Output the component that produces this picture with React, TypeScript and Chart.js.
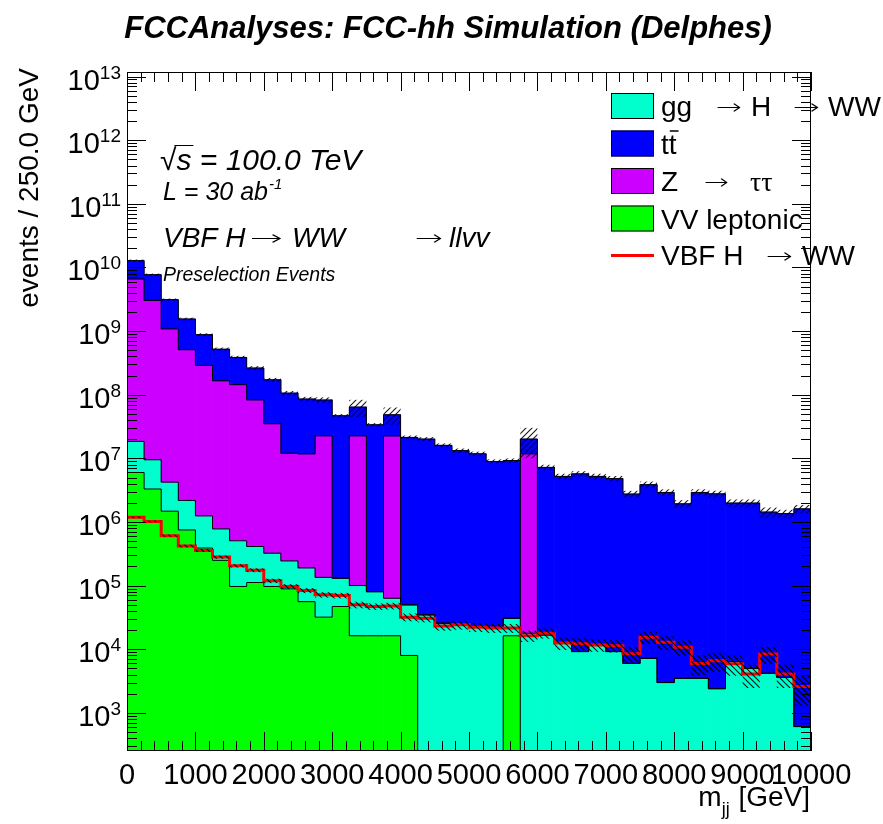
import React, { useEffect, useRef } from 'react';
import { Chart, registerables } from 'chart.js';

Chart.register(...registerables);

// ---------------- data ----------------
// lower bin edges of m_jj [GeV], 250 GeV bins
const binLow = [0, 250, 500, 750, 1000, 1250, 1500, 1750, 2000, 2250, 2500, 2750, 3000, 3250, 3500, 3750, 4000, 4250, 4500, 4750,
  5000, 5250, 5500, 5750, 6000, 6250, 6500, 6750, 7000, 7250, 7500, 7750, 8000, 8250, 8500, 8750, 9000, 9250, 9500, 9750];
const binWidth = 250;
const xMin = 0;
const xMax = 10000;
const yMin = 252;
const yMax = 1.18e13;

// stacked backgrounds, events per bin (bottom -> top)
const vvLeptonic = [6.0e6, 3.3e6, 1.48e6, 7.5e5, 3.9e5, 2.5e5, 9.7e4, 1.12e5, 9.7e4, 8.9e4, 5.6e4, 3.2e4, 4.7e4, 1.63e4, 1.63e4, 1.63e4, 8.0e3,
  0, 0, 0, 0, 0, 1.63e4, 0, 0, 0, 0, 0, 0, 0, 0, 0, 0, 0, 0, 0, 0, 0, 0, 0];
const ggHWW = [1.25e7, 6.2e6, 2.76e6, 1.43e6, 8.6e5, 5.3e5, 4.1e5, 3.0e5, 2.27e5, 1.56e5, 1.34e5, 1.03e5, 8.4e4, 8.4e4, 6.4e4, 4.7e4, 4.2e4,
  3.48e4, 2.57e4, 2.42e4, 2.28e4, 2.15e4, 1.45e4, 1.79e4, 1.68e4, 1.25e4, 9.2e3, 1.17e4, 9.2e3, 6.0e3, 7.2e3, 3.0e3, 3.5e3, 3.5e3, 2.4e3,
  6.4e3, 5.0e3, 4.2e3, 3.6e3, 610];
const zTauTau = [6.58e9, 3.03e9, 1.08e9, 5.08e8, 2.88e8, 1.65e8, 1.435e8, 8.26e7, 3.47e7, 1.18e7, 1.16e7, 2.25e7, 0, 2.25e7, 0, 2.25e7,
  0, 0, 0, 0, 0, 0, 0, 1.18e7, 0, 0, 0, 0, 0, 0, 0, 0, 0, 0, 0, 0, 0, 0, 0, 0];
const ttbar = [6.2e9, 4.66e9, 2.04e9, 1.04e9, 5.9e8, 3.54e8, 2.42e8, 1.8e8, 1.37e8, 9.4e7, 7.4e7, 6.0e7, 4.67e7, 4.14e7, 3.37e7, 2.59e7,
  2.13e7, 2.01e7, 1.6e7, 1.32e7, 1.18e7, 8.9e6, 9.2e6, 8.3e6, 7.2e6, 5.2e6, 5.7e6, 5.2e6, 4.8e6, 2.75e6, 3.85e6, 2.91e6, 1.93e6,
  2.91e6, 2.77e6, 1.98e6, 1.98e6, 1.43e6, 1.35e6, 1.61e6];
// signal (not stacked)
const vbfHWW = [1.19e6, 1.02e6, 6.1e5, 4.2e5, 3.57e5, 2.81e5, 2.05e5, 1.75e5, 1.19e5, 9.7e4, 8.4e4, 7.2e4, 7.0e4, 5.0e4, 4.7e4, 4.8e4,
  3.2e4, 3.08e4, 2.33e4, 2.42e4, 2.22e4, 2.15e4, 2.15e4, 1.63e4, 1.79e4, 1.25e4, 1.22e4, 1.17e4, 1.14e4, 8.5e3, 1.55e4, 1.29e4, 1.08e4,
  6.0e3, 6.6e3, 5.9e3, 4.1e3, 8.4e3, 4.1e3, 2.6e3];
// relative statistical uncertainties (hatched bands)
const bkgRelErr = [0.04, 0.04, 0.04, 0.05, 0.05, 0.06, 0.06, 0.07, 0.07, 0.08, 0.08, 0.1, 0.06, 0.3, 0.06, 0.3, 0.07, 0.07, 0.07, 0.08,
  0.08, 0.08, 0.08, 0.5, 0.1, 0.1, 0.1, 0.1, 0.1, 0.12, 0.12, 0.12, 0.14, 0.12, 0.12, 0.14, 0.14, 0.18, 0.15, 0.15];
const sigRelErr = [0.03, 0.03, 0.04, 0.05, 0.05, 0.06, 0.06, 0.07, 0.08, 0.09, 0.09, 0.1, 0.1, 0.12, 0.12, 0.12, 0.14, 0.14, 0.16, 0.16,
  0.16, 0.16, 0.16, 0.2, 0.18, 0.22, 0.22, 0.22, 0.22, 0.28, 0.22, 0.25, 0.27, 0.35, 0.33, 0.35, 0.4, 0.3, 0.4, 0.5];

const xMajorTicks = [0, 1000, 2000, 3000, 4000, 5000, 6000, 7000, 8000, 9000, 10000];
const xTickLabels = ['0', '1000', '2000', '3000', '4000', '5000', '6000', '7000', '8000', '9000', '10000'];
const xMinorStep = 200;
const yDecades = [3, 4, 5, 6, 7, 8, 9, 10, 11, 12, 13];

const colTT = '#0000ff';
const colZ = '#cc00ff';
const colGG = '#00ffcc';
const colVV = '#00ff00';
const colSig = '#ff0000';

const SANS = '"Liberation Sans", Arial, Helvetica, sans-serif';
const SERIF = '"Liberation Serif", "Times New Roman", serif';
const ARROWFONT = '"DejaVu Sans", sans-serif';

// ---------------- helpers ----------------
const FLOOR = 1;
const centers = binLow.map((b) => b + binWidth / 2);
const cumVV = vvLeptonic.slice();
const cumGG = cumVV.map((v, i) => v + ggHWW[i]);
const cumZ = cumGG.map((v, i) => v + zTauTau[i]);
const cumTT = cumZ.map((v, i) => v + ttbar[i]);
const lo = (v: number) => Math.max(v, FLOOR);

function floating(base: number[], top: number[], vals: number[]) {
  return centers.map((c, i) => ({ x: c, y: vals[i] > 0 ? [lo(base[i]), top[i]] : null }));
}
function band(vals: number[], err: number[]) {
  return centers.map((c, i) => ({ x: c, y: [vals[i] * (1 - err[i]), vals[i] * (1 + err[i])] }));
}
function steps(vals: number[]) {
  const pts = binLow.map((b, i) => ({ x: b, y: lo(vals[i]) }));
  pts.push({ x: xMax, y: lo(vals[vals.length - 1]) });
  return pts;
}

function makeHatch(ctx: CanvasRenderingContext2D, forward: boolean) {
  const s = 6;
  const c = document.createElement('canvas');
  c.width = s;
  c.height = s;
  const g = c.getContext('2d')!;
  g.strokeStyle = 'rgba(0,0,0,0.9)';
  g.lineWidth = 1.1;
  g.beginPath();
  if (forward) {
    g.moveTo(0, s); g.lineTo(s, 0);
    g.moveTo(-1, 1); g.lineTo(1, -1);
    g.moveTo(s - 1, s + 1); g.lineTo(s + 1, s - 1);
  } else {
    g.moveTo(0, 0); g.lineTo(s, s);
    g.moveTo(s - 1, -1); g.lineTo(s + 1, 1);
    g.moveTo(-1, s - 1); g.lineTo(1, s + 1);
  }
  g.stroke();
  return ctx.createPattern(c, 'repeat')!;
}

// draws a right-arrow glyph (text) stretched to a given width; y is the text baseline
function arrow(ctx: CanvasRenderingContext2D, x: number, y: number, w: number) {
  ctx.save();
  ctx.font = `200 21px ${ARROWFONT}`;
  ctx.textAlign = 'left';
  const mw = ctx.measureText('\u2192').width;
  ctx.translate(x, y - 2);
  ctx.scale(w / mw, 1);
  ctx.fillText('\u2192', 0, 0);
  ctx.restore();
}

const decor = {
  id: 'rootDecor',
  afterDraw(chart: any) {
    const ctx: CanvasRenderingContext2D = chart.ctx;
    const { left, right, top, bottom } = chart.chartArea;
    const xs = chart.scales.x;
    const ys = chart.scales.y;
    ctx.save();
    ctx.fillStyle = '#000';
    ctx.strokeStyle = '#000';
    ctx.lineWidth = 1;

    // frame
    ctx.strokeRect(left + 0.5, top + 0.5, right - left - 1, bottom - top - 1);

    // x ticks (bottom + top)
    ctx.beginPath();
    for (let m = 0; m < xMajorTicks.length; m++) {
      const v = xMajorTicks[m];
      const px = Math.round(xs.getPixelForValue(v)) + 0.5;
      ctx.moveTo(px, bottom); ctx.lineTo(px, bottom - 19);
      ctx.moveTo(px, top); ctx.lineTo(px, top + 19);
      if (m < xMajorTicks.length - 1) {
        for (let k = v + xMinorStep; k < xMajorTicks[m + 1]; k += xMinorStep) {
          const p = Math.round(xs.getPixelForValue(k)) + 0.5;
          ctx.moveTo(p, bottom); ctx.lineTo(p, bottom - 10);
          ctx.moveTo(p, top); ctx.lineTo(p, top + 10);
        }
      }
    }
    // y ticks (left + right)
    for (const d of yDecades) {
      const base = Math.pow(10, d);
      const py = Math.round(ys.getPixelForValue(base)) + 0.5;
      if (base >= yMin && base <= yMax) {
        ctx.moveTo(left, py); ctx.lineTo(left + 19, py);
        ctx.moveTo(right, py); ctx.lineTo(right - 19, py);
      }
    }
    for (let d = 2; d <= 13; d++) {
      for (let k = 2; k <= 9; k++) {
        const v = k * Math.pow(10, d);
        if (v < yMin || v > yMax) continue;
        const py = Math.round(ys.getPixelForValue(v)) + 0.5;
        ctx.moveTo(left, py); ctx.lineTo(left + 10, py);
        ctx.moveTo(right, py); ctx.lineTo(right - 10, py);
      }
    }
    ctx.stroke();

    // x tick labels
    ctx.font = `29px ${SANS}`;
    ctx.textAlign = 'center';
    ctx.textBaseline = 'alphabetic';
    xMajorTicks.forEach((v, i) => {
      ctx.fillText(xTickLabels[i], xs.getPixelForValue(v), 784);
    });

    // y tick labels 10^n
    for (const d of yDecades) {
      const py = ys.getPixelForValue(Math.pow(10, d));
      ctx.font = `29px ${SANS}`;
      const w10 = ctx.measureText('10').width;
      ctx.font = `19px ${SANS}`;
      const we = ctx.measureText(String(d)).width;
      const xr = 121;
      ctx.textAlign = 'left';
      ctx.font = `29px ${SANS}`;
      ctx.fillText('10', xr - we - w10, py + 13);
      ctx.font = `19px ${SANS}`;
      ctx.fillText(String(d), xr - we, py + 2);
    }

    // axis titles
    ctx.font = `28px ${SANS}`;
    ctx.textAlign = 'right';
    const gevW = ctx.measureText(' [GeV]').width;
    ctx.fillText(' [GeV]', 810, 806);
    ctx.fillText('m', 810 - gevW - 9, 806);
    ctx.font = `18px ${SANS}`;
    ctx.textAlign = 'left';
    ctx.fillText('jj', 810 - gevW - 9, 815);

    ctx.save();
    ctx.translate(38, 68);
    ctx.rotate(-Math.PI / 2);
    ctx.font = `28px ${SANS}`;
    ctx.textAlign = 'right';
    ctx.fillText('events / 250.0 GeV', 0, 0);
    ctx.restore();

    // title
    ctx.font = `italic bold 31px ${SANS}`;
    ctx.textAlign = 'center';
    ctx.fillText('FCCAnalyses: FCC-hh Simulation (Delphes)', 448, 38);

    // in-frame labels
    ctx.textAlign = 'left';
    ctx.font = `italic 30px ${SANS}`;
    const sq = ctx.measureText('\u221A').width;
    const sw = ctx.measureText('s').width;
    ctx.fillText('\u221As = 100.0 TeV', 160, 170);
    ctx.beginPath();
    ctx.moveTo(160 + sq - 2, 145.5);
    ctx.lineTo(160 + sq + sw + 2, 145.5);
    ctx.stroke();

    ctx.font = `italic 25px ${SANS}`;
    const lw = ctx.measureText('L = 30 ab').width;
    ctx.fillText('L = 30 ab', 163, 200);
    ctx.font = `italic 15px ${SANS}`;
    ctx.fillText('-1', 163 + lw + 1, 189);

    ctx.font = `italic 28px ${SANS}`;
    ctx.fillText('VBF H', 163, 247);
    arrow(ctx, 250, 247, 33);
    ctx.font = `italic 28px ${SANS}`;
    ctx.fillText('WW', 292, 247);
    arrow(ctx, 415, 247, 28);
    ctx.font = `italic 28px ${SANS}`;
    ctx.fillText('llvv', 449, 247);

    ctx.font = `italic 19.5px ${SANS}`;
    ctx.fillText('Preselection Events', 163, 281);

    // legend
    const bx = 611;
    const bw = 43;
    const bh = 26;
    const rows = [106, 143.5, 181, 218.5];
    const fills = [colGG, colTT, colZ, colVV];
    rows.forEach((cy, i) => {
      ctx.fillStyle = fills[i];
      ctx.fillRect(bx, cy - bh / 2, bw, bh);
      ctx.strokeStyle = '#000';
      ctx.lineWidth = 1;
      ctx.strokeRect(bx + 0.5, cy - bh / 2 + 0.5, bw - 1, bh - 1);
    });
    ctx.strokeStyle = colSig;
    ctx.lineWidth = 3;
    ctx.beginPath();
    ctx.moveTo(bx, 255.5);
    ctx.lineTo(bx + bw, 255.5);
    ctx.stroke();

    ctx.fillStyle = '#000';
    ctx.font = `28px ${SANS}`;
    const tx = 661;
    ctx.fillText('gg', tx, 116);
    arrow(ctx, 716, 116, 26);
    ctx.font = `28px ${SANS}`;
    ctx.fillText('H', 751, 116);
    arrow(ctx, 793, 116, 27);
    ctx.font = `28px ${SANS}`;
    ctx.fillText('WW', 828, 116);

    ctx.fillText('tt', tx, 153.5);
    const tW = ctx.measureText('t').width;
    ctx.strokeStyle = '#000';
    ctx.lineWidth = 1.5;
    ctx.beginPath();
    ctx.moveTo(tx + tW + 1, 131);
    ctx.lineTo(tx + 2 * tW + 2, 131);
    ctx.stroke();

    ctx.fillText('Z', tx, 191);
    arrow(ctx, 704, 191, 25);
    ctx.font = `28px ${SERIF}`;
    ctx.fillText('\u03C4\u03C4', 750, 191);
    ctx.font = `28px ${SANS}`;
    ctx.fillText('VV leptonic', tx, 228.5);
    ctx.fillText('VBF H', tx, 265);
    arrow(ctx, 766, 265, 27);
    ctx.font = `28px ${SANS}`;
    ctx.fillText('WW', 802, 265);

    ctx.restore();
  },
};

export default function App() {
  const ref = useRef<HTMLCanvasElement>(null);
  useEffect(() => {
    const canvas = ref.current!;
    const c2d = canvas.getContext('2d')!;
    const hatchFwd = makeHatch(c2d, true);
    const hatchBack = makeHatch(c2d, false);

    const barCommon = { type: 'bar' as const, grouped: false, barPercentage: 1, categoryPercentage: 1, borderWidth: 0 };
    const lineCommon = { type: 'line' as const, pointRadius: 0, stepped: true, fill: false, tension: 0 };

    const chart = new Chart(canvas, {
      type: 'bar',
      data: {
        datasets: [
          { ...barCommon, label: 'tt', data: floating(cumZ, cumTT, ttbar) as any, backgroundColor: colTT, order: 20 },
          { ...barCommon, label: 'Z', data: floating(cumGG, cumZ, zTauTau) as any, backgroundColor: colZ, order: 20 },
          { ...barCommon, label: 'gg', data: floating(cumVV, cumGG, ggHWW) as any, backgroundColor: colGG, order: 20 },
          { ...barCommon, label: 'VV', data: floating(cumVV.map(() => 0), cumVV, vvLeptonic) as any, backgroundColor: colVV, order: 20 },
          { ...lineCommon, label: 'oTT', data: steps(cumTT) as any, borderColor: '#000', borderWidth: 1, order: 10 },
          { ...lineCommon, label: 'oZ', data: steps(cumZ) as any, borderColor: '#000', borderWidth: 1, order: 10 },
          { ...lineCommon, label: 'oGG', data: steps(cumGG) as any, borderColor: '#000', borderWidth: 1, order: 10 },
          { ...lineCommon, label: 'oVV', data: steps(cumVV) as any, borderColor: '#000', borderWidth: 1, order: 10 },
          { ...lineCommon, label: 'VBF', data: steps(vbfHWW) as any, borderColor: colSig, borderWidth: 3, order: 6 },
          { ...barCommon, label: 'sigErr', data: band(vbfHWW, sigRelErr) as any, backgroundColor: hatchBack, inflateAmount: 0, order: 4 },
          { ...barCommon, label: 'bkgErr', data: band(cumTT, bkgRelErr) as any, backgroundColor: hatchFwd, inflateAmount: 0, order: 3 },
        ] as any,
      },
      options: {
        responsive: false,
        animation: false,
        devicePixelRatio: 1,
        events: [],
        layout: { padding: { left: 127, right: 72, top: 72, bottom: 73 } },
        plugins: { legend: { display: false }, tooltip: { enabled: false } },
        scales: {
          x: { type: 'linear', min: xMin, max: xMax, offset: false, display: false, bounds: 'data', ticks: { stepSize: 1000 } },
          y: { type: 'logarithmic', min: yMin, max: yMax, display: false, bounds: 'data' },
        },
      } as any,
      plugins: [decor],
    });
    return () => chart.destroy();
  }, []);

  return (
    <div style={{ position: 'absolute', left: 0, top: 0, width: 883, height: 824, background: '#fff' }}>
      <canvas ref={ref} width={883} height={824} style={{ display: 'block', width: 883, height: 824 }} />
    </div>
  );
}
